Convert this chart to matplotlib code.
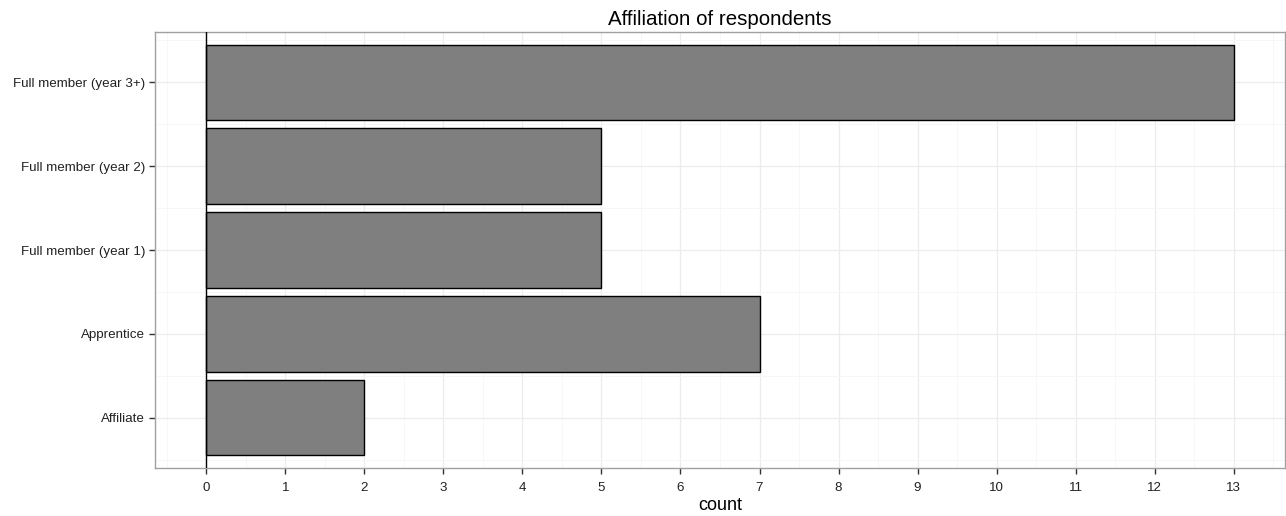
import numpy as np
import matplotlib
matplotlib.use('Agg')
import matplotlib.pyplot as plt

# 数据 (bottom -> top)
categories = ['Affiliate', 'Apprentice', 'Full member (year 1)',
              'Full member (year 2)', 'Full member (year 3+)']
counts = [2, 7, 5, 5, 13]
x_ticks = list(range(0, 14))

plt.rcParams['font.family'] = ['Liberation Sans', 'DejaVu Sans']

fig = plt.figure(figsize=(12.86, 5.16), dpi=100)
ax = fig.add_axes([155 / 1286, 48 / 516, 1130 / 1286, 436 / 516])

y = np.arange(1, len(categories) + 1)
ax.barh(y, counts, height=0.9, color='#7f7f7f', edgecolor='black', linewidth=1.0, zorder=3)
ax.axvline(0, color='black', lw=1.0, zorder=4)

ax.set_xlim(-0.65, 13.65)
ax.set_ylim(0.4, len(categories) + 0.6)

ax.set_xticks(x_ticks)
ax.set_xticks(np.arange(-0.5, 14, 1.0), minor=True)
ax.set_yticks(y)
ax.set_yticklabels(categories)
ax.set_yticks(np.arange(0.5, len(categories) + 1, 1.0), minor=True)

ax.grid(which='major', color='#ececec', lw=0.9, zorder=0)
ax.grid(which='minor', color='#f6f6f6', lw=0.6, zorder=0)
ax.tick_params(which='major', length=4, width=1, color='#333333',
               labelsize=9.6, labelcolor='#222222')
ax.tick_params(axis='x', pad=6)
ax.tick_params(axis='y', pad=3)
ax.tick_params(which='minor', length=0)

for s in ax.spines.values():
    s.set_color('#a0a0a0')
    s.set_linewidth(1.0)

ax.set_xlabel('count', fontsize=13, labelpad=2)
ax.set_title('Affiliation of respondents', fontsize=14.8, pad=5)

fig.savefig('out.png', dpi=100)
